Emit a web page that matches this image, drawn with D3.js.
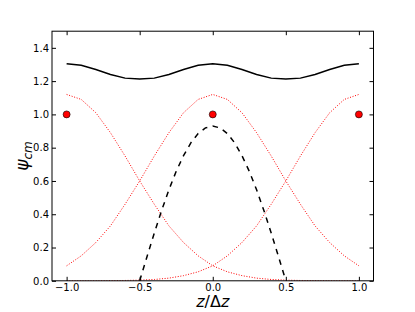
<!DOCTYPE html>
<html><head><meta charset="utf-8">
<script src="https://cdn.jsdelivr.net/npm/d3@7"></script>
<style>body{margin:0;background:#fff}svg{display:block}</style>
</head><body>
<script>
const xGrid = [-1.0,-0.9,-0.8,-0.7,-0.6,-0.5,-0.4,-0.3,-0.2,-0.1,0.0,0.1,0.2,0.3,0.4,0.5,0.6,0.7,0.8,0.9,1.0];
const leftSite = [1.12,1.09,1.01,0.89,0.75,0.60,0.46,0.33,0.23,0.15,0.09,0.054,0.031,0.016,0.008,0.004,0.002,0.001,0.0003,0.0001,0.0];
const centerSite = [0.09,0.15,0.23,0.33,0.46,0.60,0.75,0.89,1.01,1.09,1.12,1.09,1.01,0.89,0.75,0.60,0.46,0.33,0.23,0.15,0.09];
const rightSite = [0.0,0.0001,0.0003,0.001,0.002,0.004,0.008,0.016,0.031,0.054,0.09,0.15,0.23,0.33,0.46,0.60,0.75,0.89,1.01,1.09,1.12];
const totalDensity = [1.305,1.295,1.27,1.24,1.218,1.212,1.218,1.24,1.27,1.295,1.305,1.295,1.27,1.24,1.218,1.212,1.218,1.24,1.27,1.295,1.305];
const dashX = [-0.5,-0.45,-0.4,-0.35,-0.3,-0.25,-0.2,-0.15,-0.1,-0.05,0.0,0.05,0.1,0.15,0.2,0.25,0.3,0.35,0.4,0.45,0.5];
const dashY = [0.0,0.145,0.287,0.422,0.547,0.658,0.752,0.829,0.885,0.919,0.93,0.919,0.885,0.829,0.752,0.658,0.547,0.422,0.287,0.145,0.0];
const pointX = [-1.0,0.0,1.0];
const pointY = [1.0,1.0,1.0];
const xTicks = [-1.0,-0.5,0.0,0.5,1.0];
const yTicks = [0.0,0.2,0.4,0.6,0.8,1.0,1.2,1.4];

const W=415,H=312, L=52,R=373.5,T=31.2,B=280.8;
const svg=d3.select("body").append("svg").attr("width",W).attr("height",H);
const x=d3.scaleLinear().domain([-1.1,1.1]).range([L,R]);
const y=d3.scaleLinear().domain([0,1.5]).range([B,T]);
const font="DejaVu Sans";

const g=svg.append("g");
g.append("defs").append("clipPath").attr("id","clip").append("rect")
 .attr("x",L).attr("y",T).attr("width",R-L).attr("height",B-T);
const plot=g.append("g").attr("clip-path","url(#clip)");
const line=(xs,ys)=>d3.line().x((d,i)=>x(xs[i])).y(d=>y(d))(ys);

[leftSite,centerSite,rightSite].forEach(s=>{
  plot.append("path").attr("d",line(xGrid,s)).attr("fill","none")
   .attr("stroke","#ff0000").attr("stroke-width",1).attr("stroke-dasharray","1,1.65");
});
plot.append("path").attr("d",line(xGrid,totalDensity)).attr("fill","none")
 .attr("stroke","#000").attr("stroke-width",1.5);
plot.append("path").attr("d",line(dashX,dashY)).attr("fill","none")
 .attr("stroke","#000").attr("stroke-width",1.5).attr("stroke-dasharray","5.5,5.5");
svg.append("g").selectAll("circle").data(pointX).join("circle")
 .attr("cx",d=>x(d)).attr("cy",(d,i)=>y(pointY[i])).attr("r",3.5)
 .attr("fill","#ff0000").attr("stroke","#000").attr("stroke-width",0.6);

// frame
svg.append("rect").attr("x",L).attr("y",T).attr("width",R-L).attr("height",B-T)
 .attr("fill","none").attr("stroke","#000").attr("stroke-width",1);

// axes with inward ticks
const ax=d3.axisBottom(x).tickValues(xTicks).tickSize(-4).tickPadding(3).tickFormat(d3.format(".1f"));
const axTop=d3.axisTop(x).tickValues(xTicks).tickSize(-4).tickFormat("");
const ay=d3.axisLeft(y).tickValues(yTicks).tickSize(-4).tickPadding(3).tickFormat(d3.format(".1f"));
const ayR=d3.axisRight(y).tickValues(yTicks).tickSize(-4).tickFormat("");
function style(sel){sel.select(".domain").remove();sel.selectAll("text").attr("font-family",font).attr("font-size",10).attr("fill","#000");sel.selectAll("line").attr("stroke","#000");}
svg.append("g").attr("transform",`translate(0,${B})`).call(ax).call(style);
svg.append("g").attr("transform",`translate(0,${T})`).call(axTop).call(style);
svg.append("g").attr("transform",`translate(${L},0)`).call(ay).call(style);
svg.append("g").attr("transform",`translate(${R},0)`).call(ayR).call(style);
svg.selectAll("text").each(function(){const t=d3.select(this);t.text(t.text().replace("-","\u2212"));});

// labels
const xl=svg.append("text").attr("x",(L+R)/2).attr("y",307).attr("text-anchor","middle")
 .attr("font-family",font).attr("font-size",16);
xl.append("tspan").attr("font-style","italic").text("z");
xl.append("tspan").text("/\u0394");
xl.append("tspan").attr("font-style","italic").text("z");
const yl=svg.append("text").attr("transform",`translate(28,${(T+B)/2}) rotate(-90)`).attr("text-anchor","middle")
 .attr("font-family",font).attr("font-size",17);
yl.append("tspan").attr("font-style","italic").text("\u03c8");
yl.append("tspan").attr("font-style","italic").attr("font-size",12).attr("dy",4).text("cm");
</script>
</body></html>
